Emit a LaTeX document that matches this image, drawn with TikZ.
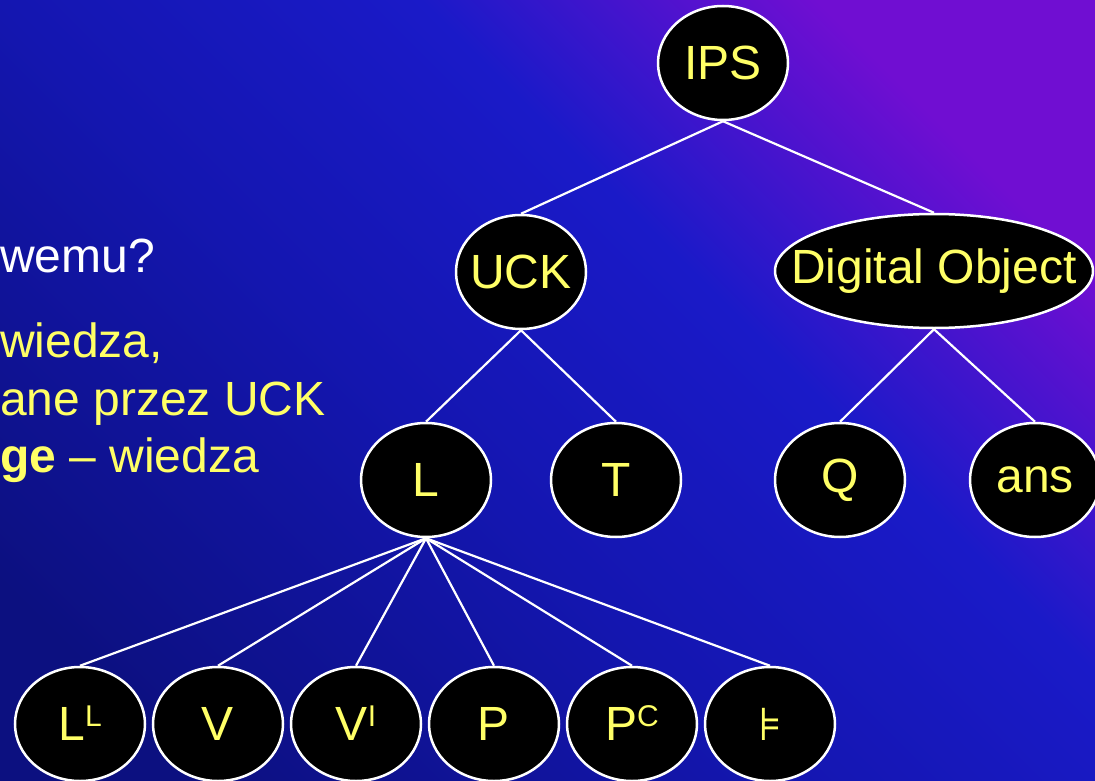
\documentclass[tikz,border=0pt]{standalone}
\usepackage{fontspec}
\setmainfont{Liberation Sans}
\newfontfamily\symfont{DejaVu Sans}
\usetikzlibrary{shapes.geometric}

\definecolor{bgdark}{RGB}{12,16,128}
\definecolor{bgmid}{RGB}{20,22,176}
\definecolor{bgblue}{RGB}{26,26,200}
\definecolor{bgpurple}{RGB}{112,14,210}
\definecolor{txtyellow}{RGB}{255,255,102}

\pgfdeclarehorizontalshading{slidebg}{100bp}{color(0bp)=(bgdark); color(22bp)=(bgdark);
  color(44bp)=(bgmid); color(60bp)=(bgblue); color(75bp)=(bgpurple); color(100bp)=(bgpurple)}

% small raised index next to a letter
\newcommand\sups[1]{\raisebox{14pt}[0pt][0pt]{\fontsize{30}{30}\selectfont #1}}

\begin{document}
\begin{tikzpicture}[x=1pt,y=-1pt,
    tnode/.style={ellipse, draw=white, line width=2.5pt, fill=black, text=txtyellow,
      inner sep=0pt, minimum width=130pt, minimum height=114pt,
      font=\fontsize{48}{56}\selectfont},
    edge/.style={white, line width=2.2pt},
    slidetext/.style={anchor=base west, inner sep=0pt, text=txtyellow,
      font=\fontsize{48}{56}\selectfont}]
  \useasboundingbox (0,0) rectangle (1095,781);
  \clip (0,0) rectangle (1095,781);
  \shade [shading=slidebg, shading angle=45] (0,0) rectangle (1095,781);

  % text of the slide
  \path (0,272) node [slidetext, text=white] (q1) {wemu?}
        (0,357) node [slidetext] (t1) {wiedza,}
        (0,415) node [slidetext] (t2) {ane przez UCK}
        (0,472) node [slidetext] (t3) {\textbf{ge} -- wiedza};

  % the tree
  \node [tnode] (ips)  at (723,63)  {IPS};
  \node [tnode] (uck)  at (521,272) {\makebox[0pt]{UCK}};
  \node [tnode, minimum width=318pt] (dobj) at (934,271) {\makebox[0pt]{Digital Object}};
  \node [tnode] (l)    at (426,480) {L};
  \node [tnode] (t)    at (616,480) {T};
  \node [tnode] (q)    at (840,480) {Q};
  \node [tnode] (ans)  at (1035,480) {ans};
  \node [tnode] (ll)   at (80,724)  {L\sups{L}};
  \node [tnode] (v)    at (218,724) {V};
  \node [tnode] (vi)   at (356,724) {V\sups{I}};
  \node [tnode] (p)    at (494,724) {P};
  \node [tnode] (pc)   at (632,724) {P\sups{C}};
  \node [tnode] (mod)  at (770,724) {\raisebox{-6pt}{\symfont\fontsize{46}{46}\selectfont ⊧}};

  \draw [edge] (ips.south) -- (uck.north)
               (ips.south) -- (dobj.north)
               (uck.south) -- (l.north)
               (uck.south) -- (t.north)
               (dobj.south) -- (q.north)
               (dobj.south) -- (ans.north);
  \foreach \n in {ll,v,vi,p,pc,mod}
    \draw [edge] (l.south) -- (\n.north);
\end{tikzpicture}
\end{document}
